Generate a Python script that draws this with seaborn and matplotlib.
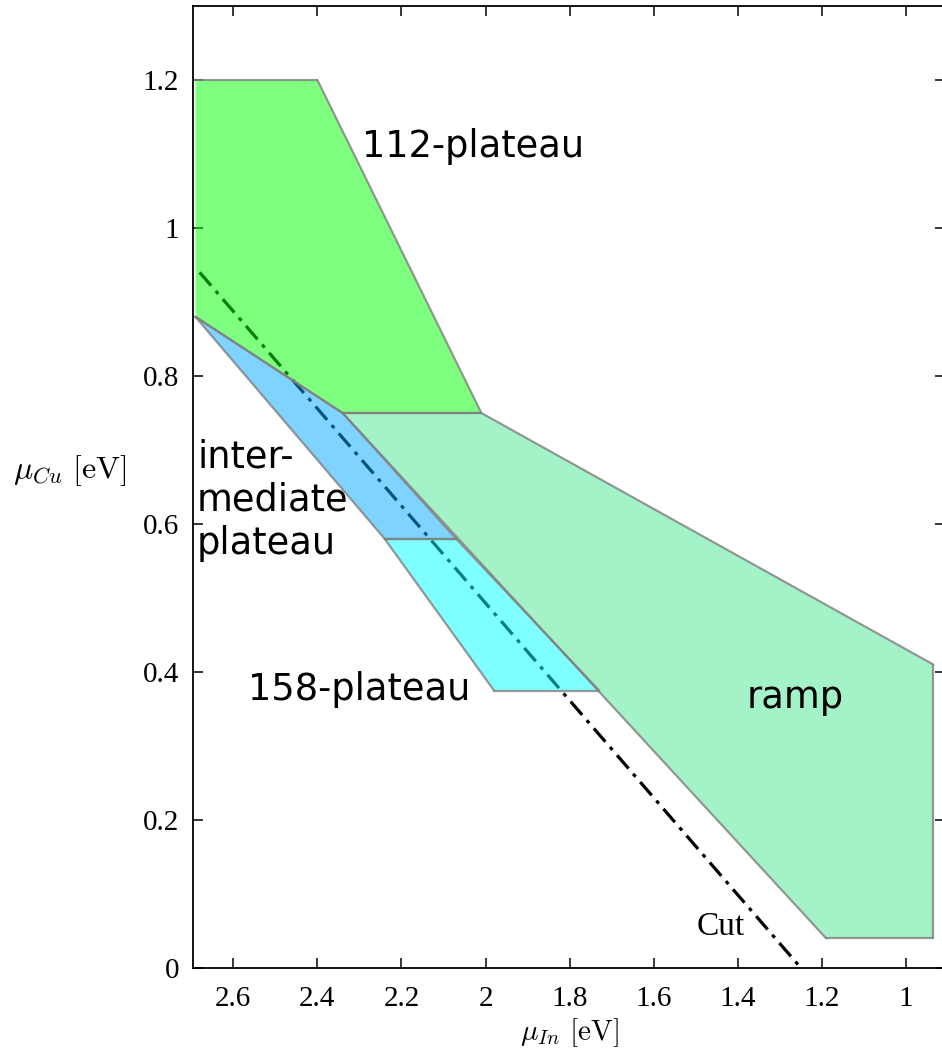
import matplotlib
matplotlib.use("Agg")
import matplotlib.pyplot as plt
import seaborn as sns
import pandas as pd

# Chemical-potential regions (mu_In, mu_Cu) in eV
plateau112_in = [2.69, 2.40, 2.01, 2.34, 2.69]
plateau112_cu = [1.20, 1.20, 0.75, 0.75, 0.88]

intermediate_in = [2.69, 2.34, 2.07, 2.24]
intermediate_cu = [0.88, 0.75, 0.58, 0.58]

plateau158_in = [2.24, 2.07, 1.73, 1.98]
plateau158_cu = [0.58, 0.58, 0.375, 0.375]

ramp_in = [2.34, 2.01, 0.935, 0.935, 1.19]
ramp_cu = [0.75, 0.75, 0.41, 0.04, 0.04]

# Cut through the phase diagram
cut_in = [2.68, 1.25]
cut_cu = [0.94, 0.0]

x_ticks = [2.6, 2.4, 2.2, 2.0, 1.8, 1.6, 1.4, 1.2, 1.0]
x_ticklabels = ["2.6", "2.4", "2.2", "2", "1.8", "1.6", "1.4", "1.2", "1"]
y_ticks = [0, 0.2, 0.4, 0.6, 0.8, 1.0, 1.2]
y_ticklabels = ["0", "0.2", "0.4", "0.6", "0.8", "1", "1.2"]

sns.set_theme(style="ticks")
plt.rcParams["font.family"] = ["Liberation Serif", "DejaVu Serif"]
plt.rcParams["mathtext.fontset"] = "cm"
plt.rcParams["text.color"] = "black"
plt.rcParams["axes.labelcolor"] = "black"

fig = plt.figure(figsize=(9.42, 10.59), dpi=100)
ax = fig.add_axes([193 / 942, 91 / 1059, (945 - 193) / 942, (968 - 6) / 1059])

cut_df = pd.DataFrame({"mu_in": cut_in, "mu_cu": cut_cu})
sns.lineplot(data=cut_df, x="mu_in", y="mu_cu", ax=ax, color="black",
             lw=2.3, sort=False, zorder=1)
ax.lines[0].set_dashes([5.5, 2.2, 1.2, 2.2])

edge = (0.5, 0.5, 0.5, 0.8)
regions = [
    (plateau112_in, plateau112_cu, (0.0, 1.0, 0.0, 0.5)),
    (intermediate_in, intermediate_cu, (0.0, 0.66, 1.0, 0.5)),
    (plateau158_in, plateau158_cu, (0.0, 1.0, 1.0, 0.5)),
    (ramp_in, ramp_cu, (0.29, 0.9, 0.57, 0.5)),
]
for xs, ys, face in regions:
    ax.fill(xs, ys, facecolor=face, edgecolor="none", zorder=2)
    n = len(xs)
    for i in range(n):
        x0, y0 = xs[i], ys[i]
        x1, y1 = xs[(i + 1) % n], ys[(i + 1) % n]
        # the boundary along the plot's left border is left open
        if x0 == x1 == max(plateau112_in):
            continue
        ax.plot([x0, x1], [y0, y1], color=edge, lw=1.6,
                solid_capstyle="round", zorder=3)

sans = ["DejaVu Sans"]
ax.text(2.295, 1.096, "112-plateau", family=sans, fontsize=26.5, va="baseline", ha="left")
ax.text(2.686, 0.56, "inter-\nmediate\nplateau", family=sans, fontsize=26.5,
        va="baseline", ha="left")
ax.text(2.565, 0.362, "158-plateau", family=sans, fontsize=26.5, va="baseline", ha="left")
ax.text(1.379, 0.351, "ramp", family=sans, fontsize=26.5, va="baseline", ha="left")
ax.text(1.497, 0.045, "Cut", fontsize=24, va="baseline", ha="left")

ax.set_xlim(2.6958, 0.9075)
ax.set_ylim(0, 1.3)
ax.set_xticks(x_ticks)
ax.set_xticklabels(x_ticklabels)
ax.set_yticks(y_ticks)
ax.set_yticklabels(y_ticklabels)

ax.tick_params(direction="in", length=7, width=1.1, top=True, right=True,
               labelsize=21, colors="black")
ax.tick_params(axis="x", pad=13)
ax.tick_params(axis="y", pad=10)
for s in ax.spines.values():
    s.set_linewidth(1.3)
    s.set_color("black")

ax.set_xlabel(r"$\mu_{In}\ [\mathrm{eV}]$", fontsize=21, labelpad=3)
ax.set_ylabel(r"$\mu_{Cu}\ [\mathrm{eV}]$", fontsize=23, rotation=0,
              ha="right", va="center")
ax.yaxis.set_label_coords(-0.088, 0.517)

fig.savefig("out.png", dpi=100, facecolor="white")
